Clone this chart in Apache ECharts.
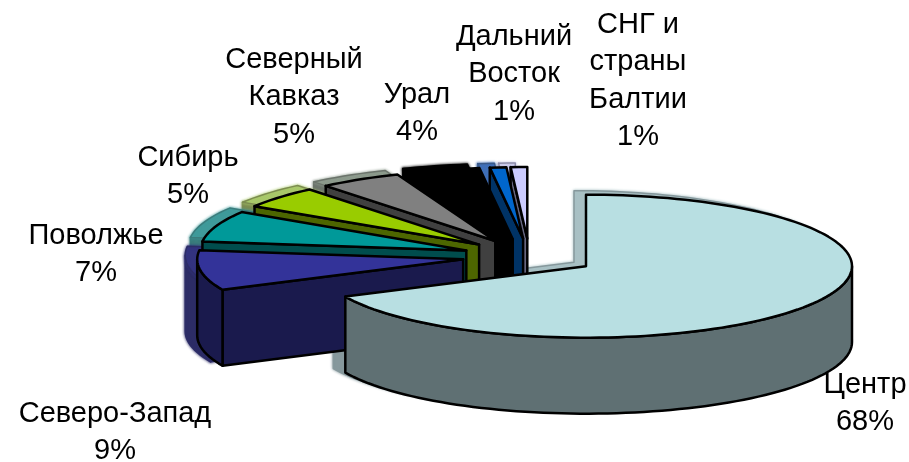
<!DOCTYPE html>
<html><head><meta charset="utf-8">
<style>html,body{margin:0;padding:0;background:#fff}#c{width:909px;height:462px}</style>
<script src="https://cdn.jsdelivr.net/npm/echarts@6/dist/echarts.min.js"></script>
</head><body><div id="c"></div>
<script>
const categories = ['Центр','Северо-Запад','Поволжье','Сибирь','Северный\nКавказ','Урал','Дальний\nВосток','СНГ и\nстраны\nБалтии'];
const values = [68,9,7,5,5,4,1,1];
const topColors = ['#B8DFE2','#333399','#009999','#99CC00','#808080','#000000','#0066CC','#CCCCFF'];
const sideColors = ['#5F7073','#1A1A4D','#004D4D','#4D6600','#404040','#000000','#003366','#666680'];
const ghostTop = ['#A8C0C4','#33337F','#3F9A9A','#A8C86A','#8C9A8C','#000000','#3F6FB8','#C8C8E8'];
const ghostSide = ['#86989C','#2C2C66','#3A7C7C','#7C8C50','#6C746C','#000000','#3A5A8A','#8C8CA8'];
const labelAnchors = [[865,366],[115,395],[96,217],[188,139],[294,41],[417,76],[514,18],[638,6]];

const layout = {cx:529.4, cy:256.5, rx:266, ry:71.5, depth:76, explode:0.252, ghostDx:-12, ghostDy:-4};
const total = values.reduce((a,b)=>a+b,0);
const rad = d => d*Math.PI/180;
function sliceGeom(i){
  let before = 0; for(let k=0;k<i;k++) before += values[k];
  const a0 = before/total*360, a1 = (before+values[i])/total*360, mid=(a0+a1)/2;
  const cx = layout.cx + layout.explode*layout.rx*Math.sin(rad(mid));
  const cy = layout.cy - layout.explode*layout.ry*Math.cos(rad(mid));
  const pt = a => [cx+layout.rx*Math.sin(rad(a)), cy-layout.ry*Math.cos(rad(a))];
  return {a0,a1,cx,cy,pt};
}
function shapes(i,dx,dy,fillTop,fillSide,stroke,lw,blur){
  const g = sliceGeom(i), d = layout.depth, out=[];
  const off = p => [p[0]+dx,p[1]+dy];
  const poly = (pts,fill) => out.push({type:'polygon',shape:{points:pts.map(off)},
    style:{fill,stroke,lineWidth:lw,lineJoin:'round',shadowBlur:blur,shadowColor:blur?fill:'transparent'}});
  const arc=(a,b)=>{const n=Math.max(2,Math.ceil((b-a)/2)),r=[];for(let k=0;k<=n;k++)r.push(g.pt(a+(b-a)*k/n));return r;};
  const down=p=>[p[0],p[1]+d];
  const s=g.pt(g.a0), c=[g.cx,g.cy];
  if(g.a0>180) poly([c,s,down(s),down(c)],fillSide);
  const r0=Math.max(g.a0,90), r1=Math.min(g.a1,270);
  if(r1>r0){const a=arc(r0,r1);poly(a.concat(a.slice().reverse().map(down)),fillSide);}
  poly([c].concat(arc(g.a0,g.a1)),fillTop);
  return out;
}
const drawOrder = values.map((v,i)=>i).slice(1).reverse().concat([0]);
function render(ghost){
  return function(params,api){
    const i = api.value(0);
    const ch = ghost
      ? shapes(i,layout.ghostDx,layout.ghostDy,ghostTop[i],ghostSide[i],ghostSide[i],1.5,3)
      : shapes(i,0,0,topColors[i],sideColors[i],'#000',2.5,0);
    return {type:'group',children:ch};
  };
}
const labelFont = '29px "Liberation Sans", Arial, sans-serif';
const chart = echarts.init(document.getElementById('c'),null,{renderer:'canvas'});
chart.setOption({
  animation:false,
  backgroundColor:'#fff',
  series:[
    {type:'custom',coordinateSystem:'none',silent:true,z:1,clip:false,data:drawOrder.map(i=>[i]),renderItem:render(true)},
    {type:'custom',coordinateSystem:'none',silent:true,z:2,clip:false,data:drawOrder.map(i=>[i]),renderItem:render(false)}
  ],
  graphic:categories.map((n,i)=>({
    type:'text',z:10,x:labelAnchors[i][0],y:labelAnchors[i][1],
    style:{text:n+'\n'+values[i]+'%',font:labelFont,fill:'#000',align:'center',verticalAlign:'top',lineHeight:37.5}
  }))
});
</script></body></html>
